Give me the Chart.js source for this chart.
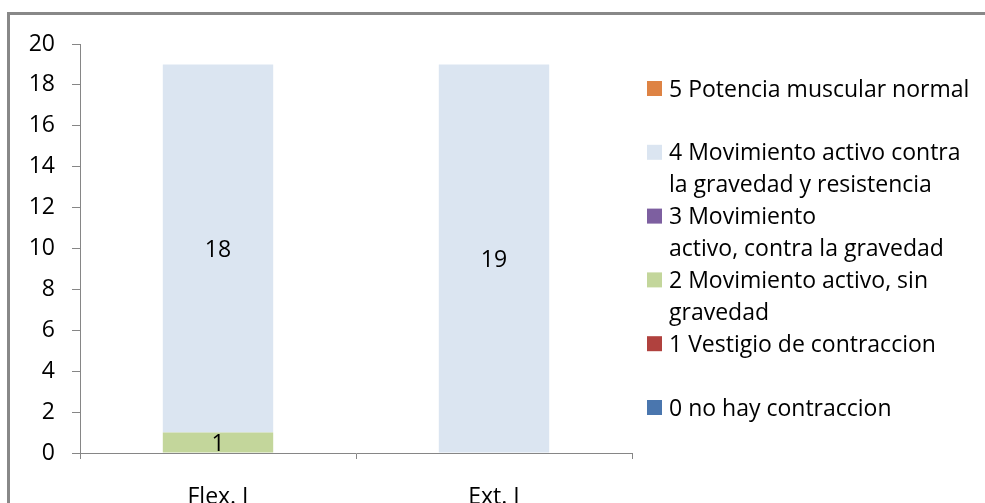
<!DOCTYPE html>
<html>
<head>
<meta charset="utf-8">
<script src="https://cdn.jsdelivr.net/npm/chart.js@4.4.1/dist/chart.umd.min.js"></script>
<style>
  html, body { margin: 0; padding: 0; background: #fff; overflow: hidden; }
  #wrap { position: absolute; left: 0; top: 0; width: 985px; height: 503px; overflow: hidden; }
</style>
</head>
<body>
<div id="wrap"><canvas id="chart" width="985" height="530"></canvas></div>
<script>
// Datos
const categorias = ['Flex. I', 'Ext. I'];
const nivel0 = [0, 0];
const nivel1 = [0, 0];
const nivel2 = [1, 0];
const nivel3 = [0, 0];
const nivel4 = [18, 19];
const nivel5 = [0, 0];
const etiquetas = [
  ['0 no hay contraccion'],
  ['1 Vestigio de contraccion'],
  ['2 Movimiento activo, sin', 'gravedad'],
  ['3 Movimiento', 'activo, contra la gravedad'],
  ['4 Movimiento activo contra', 'la gravedad y resistencia'],
  ['5 Potencia muscular normal']
];
const colores = ['#4a76ae', '#b0413e', '#c3d69b', '#7d5fa0', '#dbe5f1', '#de8344'];
const yTicks = [0, 2, 4, 6, 8, 10, 12, 14, 16, 18, 20];

const FONT = '"Open Sans", Lato, sans-serif';
const SIZE = 23;
const series = [nivel0, nivel1, nivel2, nivel3, nivel4, nivel5];

// Marco gris tipo Excel
const marco = {
  id: 'marco',
  beforeDraw(chart) {
    const c = chart.ctx;
    c.save();
    c.strokeStyle = '#888';
    c.lineWidth = 3;
    c.beginPath();
    c.moveTo(8.5, 600);
    c.lineTo(8.5, 13.5);
    c.lineTo(1000, 13.5);
    c.stroke();
    c.restore();
  }
};

// Valores dentro de las barras
const valores = {
  id: 'valores',
  afterDatasetsDraw(chart) {
    const c = chart.ctx;
    c.save();
    c.font = SIZE + 'px ' + FONT;
    c.fillStyle = '#000';
    c.textAlign = 'center';
    c.textBaseline = 'middle';
    chart.data.datasets.forEach((ds, i) => {
      chart.getDatasetMeta(i).data.forEach((bar, j) => {
        const v = ds.data[j];
        if (!v) return;
        c.fillText(String(v), bar.x, (bar.y + bar.base) / 2 + 2);
      });
    });
    c.restore();
  }
};

// Leyenda a la derecha (orden inverso)
const leyenda = {
  id: 'leyenda',
  afterDraw(chart) {
    const c = chart.ctx;
    const x0 = chart.chartArea.right + 15;
    const y0 = 89, paso = 63.8, linea = 32;
    c.save();
    c.font = SIZE + 'px ' + FONT;
    c.textBaseline = 'middle';
    c.textAlign = 'left';
    const dsets = chart.data.datasets.slice().reverse();
    dsets.forEach((ds, k) => {
      const y = y0 + k * paso;
      c.fillStyle = ds.backgroundColor;
      c.fillRect(x0, y - 8, 15, 15);
      c.fillStyle = '#000';
      ds.lineas.forEach((t, n) => c.fillText(t, x0 + 22, y + 1 + n * linea));
    });
    c.restore();
  }
};

new Chart(document.getElementById('chart'), {
  type: 'bar',
  data: {
    labels: categorias,
    datasets: series.map((d, i) => ({
      label: etiquetas[i].join(' '),
      lineas: etiquetas[i],
      data: d,
      backgroundColor: colores[i],
      borderWidth: 0,
      categoryPercentage: 1,
      barPercentage: 0.4
    }))
  },
  options: {
    responsive: false,
    animation: false,
    layout: { padding: { left: 0, top: 44, right: 353, bottom: 0 } },
    plugins: { legend: { display: false }, tooltip: { enabled: false } },
    scales: {
      x: {
        stacked: true,
        grid: { offset: true, drawOnChartArea: false, drawTicks: true, tickLength: 6, color: '#868686' },
        border: { display: true, color: '#868686' },
        ticks: { color: '#000', font: { family: FONT, size: SIZE }, padding: 25 },
        afterFit(s) { s.height = 77; }
      },
      y: {
        stacked: true,
        min: 0, max: 20,
        afterBuildTicks(s) { s.ticks = yTicks.map(v => ({ value: v })); },
        grid: { drawOnChartArea: false, drawTicks: true, tickLength: 8, color: '#868686' },
        border: { display: true, color: '#868686' },
        ticks: { color: '#000', font: { family: FONT, size: SIZE }, padding: 17 },
        afterFit(s) { s.width = 80; }
      }
    }
  },
  plugins: [marco, valores, leyenda]
});
</script>
</body>
</html>
